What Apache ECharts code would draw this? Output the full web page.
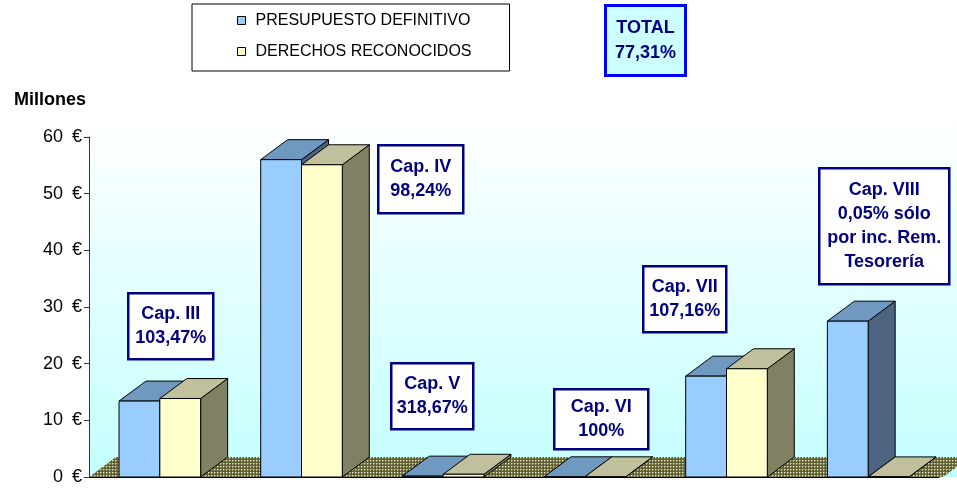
<!DOCTYPE html>
<html>
<head>
<meta charset="utf-8">
<script src="https://cdn.jsdelivr.net/npm/echarts@6/dist/echarts.min.js"></script>
<style>
  html, body { margin: 0; padding: 0; background: #fff; }
  #chart { width: 957px; height: 489px; }
</style>
</head>
<body>
<div id="chart"></div>
<script>
// datos (millones de euros)
const categories = ['Cap. III', 'Cap. IV', 'Cap. V', 'Cap. VI', 'Cap. VII', 'Cap. VIII'];
const presupuesto = [13.4, 56.0, 0.15, 0.03, 17.8, 27.5];
const derechos = [13.85, 55.1, 0.48, 0.03, 19.1, 0.015];
const notes = [
  'Cap. III\n103,47%',
  'Cap. IV\n98,24%',
  'Cap. V\n318,67%',
  'Cap. VI\n100%',
  'Cap. VII\n107,16%',
  'Cap. VIII\n0,05% sólo\npor inc. Rem.\nTesorería'
];
const totalText = 'TOTAL\n77,31%';

// posiciones de los cuadros de texto [x, y, w, h]
const noteBoxes = [
  [127, 292, 85, 66],
  [377, 144, 85, 68],
  [390, 362, 82, 66],
  [553, 388, 94, 60],
  [642, 265, 83, 66],
  [818, 167, 130, 116]
];

const DX = 27, DY = 20;
const FONT = '"Liberation Sans", Arial, sans-serif';

// trama del suelo
const pat = document.createElement('canvas');
pat.width = 3; pat.height = 3;
const pc = pat.getContext('2d');
pc.fillStyle = '#606033';
pc.fillRect(0, 0, 3, 3);
pc.fillStyle = '#e0e0c0';
pc.fillRect(1, 1, 1, 1);
pc.fillStyle = '#a0a078';
pc.fillRect(2, 1, 1, 1);
pc.fillRect(1, 2, 1, 1);

const chart = echarts.init(document.getElementById('chart'));

function bar3d(left, front, top, side) {
  return function (params, api) {
    const i = api.value(0), v = api.value(1);
    const base = api.coord([i, 0]);
    const tp = api.coord([i, v]);
    const w = api.size([1, 0])[0] * 0.288;
    const x0 = left ? base[0] - w : base[0];
    const x1 = x0 + w;
    const yb = base[1], yt = tp[1];
    const st = { stroke: '#000', lineWidth: 1 };
    return {
      type: 'group',
      children: [
        { type: 'polygon', shape: { points: [[x1, yb], [x1 + DX, yb - DY], [x1 + DX, yt - DY], [x1, yt]] },
          style: Object.assign({ fill: side }, st) },
        { type: 'polygon', shape: { points: [[x0, yt], [x1, yt], [x1 + DX, yt - DY], [x0 + DX, yt - DY]] },
          style: Object.assign({ fill: top }, st) },
        { type: 'rect', shape: { x: x0, y: yt, width: w, height: yb - yt },
          style: Object.assign({ fill: front }, st) }
      ]
    };
  };
}

function box(b, text, fill, stroke, lw, lh) {
  return {
    type: 'group', left: b[0], top: b[1], z: 100,
    children: [
      { type: 'rect', z: 100, shape: { x: 0, y: 0, width: b[2], height: b[3] },
        style: { fill: fill, stroke: stroke, lineWidth: lw } },
      { type: 'text', z: 101, x: b[2] / 2, y: b[3] / 2,
        style: { text: text, fill: '#000080', font: 'bold 18px ' + FONT, align: 'center', verticalAlign: 'middle', lineHeight: lh } }
    ]
  };
}

const graphics = notes.map((t, k) => box(noteBoxes[k], t, '#fff', '#000080', 2.5, 24));
graphics.push(box([604, 4, 80, 70], totalText, '#ccffff', '#0000ff', 3, 25));

const option = {
  animation: false,
  grid: { left: 89, right: 18, top: 137, bottom: 12 },
  legend: {
    left: 192, top: 4, orient: 'vertical',
    borderColor: '#000', borderWidth: 1,
    padding: [8, 38, 11, 45],
    itemGap: 14, itemWidth: 8, itemHeight: 8,
    textStyle: { fontFamily: FONT, fontSize: 16, color: '#000', lineHeight: 17, padding: [0, 0, 0, 5] },
    data: [
      { name: 'PRESUPUESTO DEFINITIVO', icon: 'rect', itemStyle: { color: '#99ccff', borderColor: '#000', borderWidth: 1 } },
      { name: 'DERECHOS RECONOCIDOS', icon: 'rect', itemStyle: { color: '#ffffcc', borderColor: '#000', borderWidth: 1 } }
    ]
  },
  xAxis: {
    type: 'category', data: categories, z: 5,
    axisLine: { lineStyle: { color: '#000', width: 1 } },
    axisTick: { show: false },
    axisLabel: { show: false }
  },
  yAxis: {
    type: 'value', min: 0, max: 60, interval: 10, z: 5,
    name: 'Millones', nameLocation: 'end', nameGap: 28,
    nameTextStyle: { fontFamily: FONT, fontSize: 18, fontWeight: 'bold', color: '#000', align: 'right', padding: [0, 3, 0, 0] },
    axisLine: { show: true, lineStyle: { color: '#333', width: 1 } },
    axisTick: { show: true, length: 5, lineStyle: { color: '#333' } },
    splitLine: { show: false },
    axisLabel: { fontFamily: FONT, fontSize: 18, color: '#000', margin: 7, formatter: v => v + '\u2002€' }
  },
  graphic: { z: 100, elements: graphics },
  series: [
    {
      type: 'custom', name: 'suelo', z: 1, silent: true,
      data: [[0, 0]],
      renderItem: function (params, api) {
        const cs = params.coordSys;
        const yb = cs.y + cs.height;
        return {
          type: 'group',
          children: [
            { type: 'rect', shape: { x: cs.x, y: cs.y - DY, width: cs.width + DX, height: cs.height + DY },
              style: { fill: new echarts.graphic.LinearGradient(0, 0, 0, 1, [
                { offset: 0, color: '#ffffff' },
                { offset: 1, color: '#c4ffff' }
              ]) } },
            { type: 'polygon', shape: { points: [[cs.x, yb], [cs.x + cs.width + 4, yb], [cs.x + cs.width + 4 + DX, yb - DY], [cs.x + DX, yb - DY]] },
              style: { fill: { image: pat, repeat: 'repeat' } } }
          ]
        };
      }
    },
    {
      type: 'custom', name: 'PRESUPUESTO DEFINITIVO', z: 2,
      itemStyle: { color: '#99ccff' },
      data: presupuesto.map((v, i) => [i, v]),
      renderItem: bar3d(true, '#99ccff', '#7099c2', '#4d6480')
    },
    {
      type: 'custom', name: 'DERECHOS RECONOCIDOS', z: 3,
      itemStyle: { color: '#ffffcc' },
      data: derechos.map((v, i) => [i, v]),
      renderItem: bar3d(false, '#ffffcc', '#c0c09c', '#808062')
    }
  ]
};

chart.setOption(option);
</script>
</body>
</html>
